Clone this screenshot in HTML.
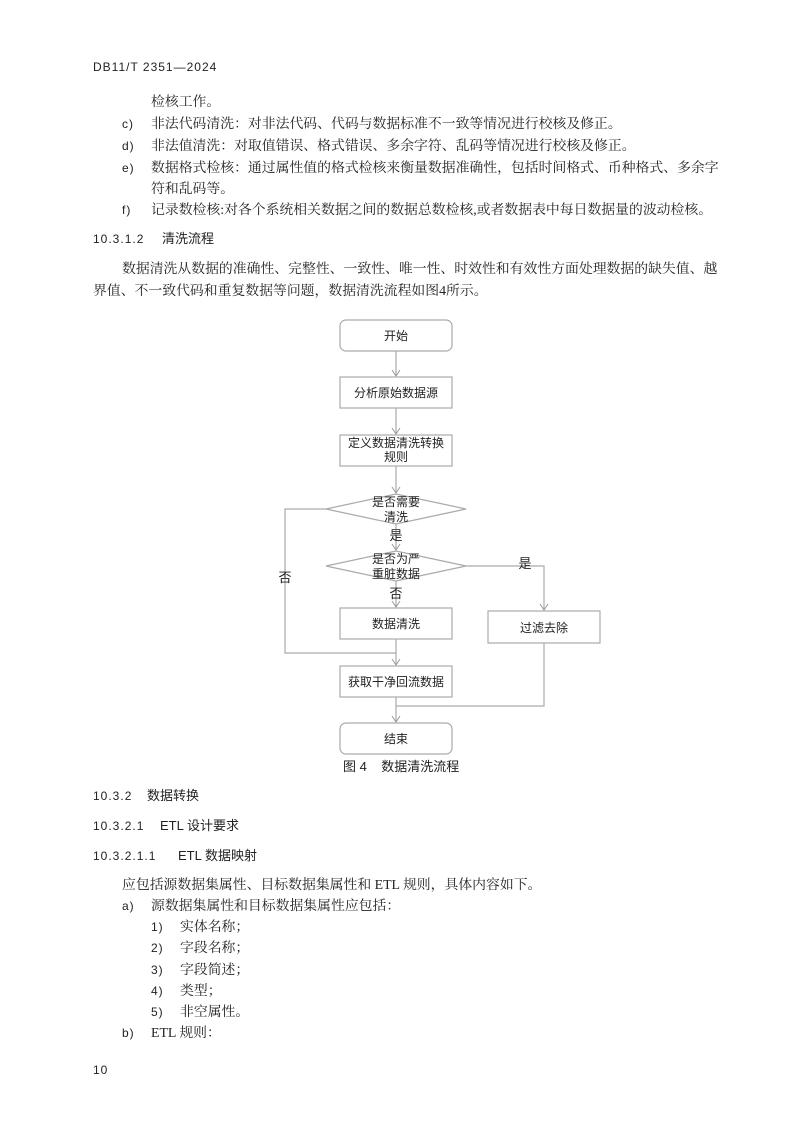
<!DOCTYPE html>
<html><head><meta charset="utf-8"><style>
body{margin:0;background:#fff;}
#p{position:relative;width:793px;height:1123px;overflow:hidden;font-family:"Liberation Serif","Noto Serif CJK SC",serif;font-size:13.85px;color:#222;}
.t{position:absolute;white-space:nowrap;line-height:16px;}
.h{font-family:"Liberation Sans","Noto Sans CJK SC",sans-serif;}
.n{font-family:"Liberation Sans Narrow","Liberation Sans",sans-serif;font-size:12px;letter-spacing:1px;}
svg text{font-family:"Liberation Sans","Noto Sans CJK SC",sans-serif;font-size:12px;fill:#222;}
</style></head><body><div id="p">
<div class="t n" style="left:93px;top:59px;">DB11/T 2351—2024</div>
<div class="t" style="left:151px;top:94px;">检核工作。</div>
<div class="t n" style="left:122px;top:116px;">c)</div><div class="t" style="left:151px;top:116px;">非法代码清洗：对非法代码、代码与数据标准不一致等情况进行校核及修正。</div>
<div class="t n" style="left:122px;top:138px;">d)</div><div class="t" style="left:151px;top:138px;">非法值清洗：对取值错误、格式错误、多余字符、乱码等情况进行校核及修正。</div>
<div class="t n" style="left:122px;top:160px;">e)</div><div class="t" style="left:151px;top:160px;">数据格式检核：通过属性值的格式检核来衡量数据准确性，包括时间格式、币种格式、多余字</div>
<div class="t" style="left:151px;top:181px;">符和乱码等。</div>
<div class="t n" style="left:122px;top:202px;">f)</div><div class="t" style="left:151px;top:202px;">记录数检核:对各个系统相关数据之间的数据总数检核,或者数据表中每日数据量的波动检核。</div>
<div class="t n" style="left:93px;top:231px;">10.3.1.2</div><div class="t h" style="left:162px;top:231px;font-size:13px;">清洗流程</div>
<div class="t" style="left:122px;top:261px;">数据清洗从数据的准确性、完整性、一致性、唯一性、时效性和有效性方面处理数据的缺失值、越</div>
<div class="t" style="left:93px;top:283px;">界值、不一致代码和重复数据等问题，数据清洗流程如图4所示。</div>

<svg style="position:absolute;left:0;top:0" width="793" height="1123">
<defs><marker id="a" markerWidth="10" markerHeight="10" refX="5" refY="8" orient="0" markerUnits="userSpaceOnUse"><path d="M1,2 L5,8 L9,2" fill="none" stroke="#999" stroke-width="1"/></marker></defs>
<g fill="none" stroke="#aaa" stroke-width="1.2">
<rect x="340" y="320" width="112" height="31" rx="6"/>
<rect x="340" y="377" width="112" height="31"/>
<rect x="340" y="435" width="112" height="31"/>
<polygon points="326,509 396,494 466,509 396,524"/>
<polygon points="326,566 396,551 466,566 396,581"/>
<rect x="340" y="608" width="112" height="31"/>
<rect x="488" y="611" width="112" height="32"/>
<rect x="340" y="666" width="112" height="31"/>
<rect x="340" y="723" width="112" height="31" rx="6"/>
</g>
<g fill="none" stroke="#aaa" stroke-width="1.2">
<line x1="396" y1="351" x2="396" y2="376" marker-end="url(#a)"/>
<line x1="396" y1="408" x2="396" y2="434" marker-end="url(#a)"/>
<line x1="396" y1="466" x2="396" y2="493" marker-end="url(#a)"/>
<line x1="396" y1="524" x2="396" y2="550" marker-end="url(#a)"/>
<line x1="396" y1="581" x2="396" y2="607" marker-end="url(#a)"/>
<polyline points="326,509 285,509 285,653 396,653"/>
<line x1="396" y1="639" x2="396" y2="665" marker-end="url(#a)"/>
<polyline points="466,566 544,566 544,610" marker-end="url(#a)"/>
<polyline points="544,643 544,706 396,706"/>
<line x1="396" y1="697" x2="396" y2="722" marker-end="url(#a)"/>
</g>
<text x="396" y="340" text-anchor="middle">开始</text>
<text x="396" y="397" text-anchor="middle">分析原始数据源</text>
<text x="396" y="447" text-anchor="middle">定义数据清洗转换</text>
<text x="396" y="461" text-anchor="middle">规则</text>
<text x="396" y="506" text-anchor="middle">是否需要</text>
<text x="396" y="521" text-anchor="middle">清洗</text>
<text x="396" y="540" text-anchor="middle" style="font-size:13px">是</text>
<text x="396" y="563" text-anchor="middle">是否为严</text>
<text x="396" y="578" text-anchor="middle">重脏数据</text>
<text x="396" y="598" text-anchor="middle" style="font-size:13px">否</text>
<text x="285" y="582" text-anchor="middle" style="font-size:13px">否</text>
<text x="525" y="568" text-anchor="middle" style="font-size:13px">是</text>
<text x="396" y="628" text-anchor="middle">数据清洗</text>
<text x="544" y="632" text-anchor="middle">过滤去除</text>
<text x="396" y="686" text-anchor="middle">获取干净回流数据</text>
<text x="396" y="743" text-anchor="middle">结束</text>
</svg>
<div class="t h" style="left:343px;top:759px;font-size:13px;">图 4&nbsp;&nbsp;&nbsp;&nbsp;数据清洗流程</div>

<div class="t n" style="left:93px;top:788px;">10.3.2</div><div class="t h" style="left:147px;top:788px;font-size:13px;">数据转换</div>
<div class="t n" style="left:93px;top:818px;">10.3.2.1</div><div class="t h" style="left:160px;top:818px;font-size:13px;">ETL 设计要求</div>
<div class="t n" style="left:93px;top:848px;">10.3.2.1.1</div><div class="t h" style="left:178px;top:848px;font-size:13px;">ETL 数据映射</div>
<div class="t" style="left:122px;top:877px;">应包括源数据集属性、目标数据集属性和 ETL 规则，具体内容如下。</div>
<div class="t n" style="left:122px;top:898px;">a)</div><div class="t" style="left:151px;top:898px;">源数据集属性和目标数据集属性应包括：</div>
<div class="t n" style="left:151px;top:919px;">1)</div><div class="t" style="left:180px;top:919px;">实体名称；</div>
<div class="t n" style="left:151px;top:940px;">2)</div><div class="t" style="left:180px;top:940px;">字段名称；</div>
<div class="t n" style="left:151px;top:962px;">3)</div><div class="t" style="left:180px;top:962px;">字段简述；</div>
<div class="t n" style="left:151px;top:983px;">4)</div><div class="t" style="left:180px;top:983px;">类型；</div>
<div class="t n" style="left:151px;top:1004px;">5)</div><div class="t" style="left:180px;top:1004px;">非空属性。</div>
<div class="t n" style="left:122px;top:1025px;">b)</div><div class="t" style="left:151px;top:1025px;">ETL 规则：</div>
<div class="t n" style="left:93px;top:1062px;">10</div>
</div></body></html>
